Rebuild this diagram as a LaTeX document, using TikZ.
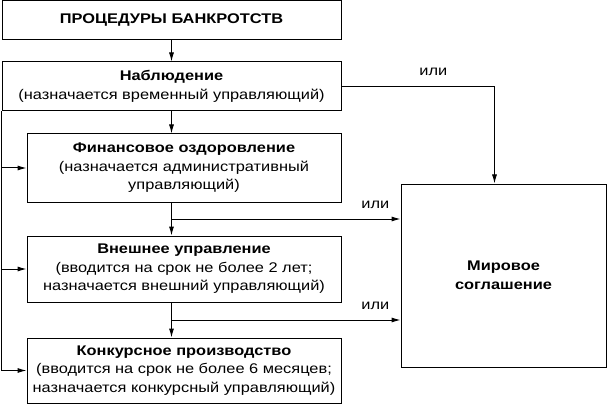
\documentclass[tikz,border=0pt]{standalone}
\usepackage{fontspec}
\setmainfont{Liberation Sans}[FakeStretch=1.17]
\usetikzlibrary{arrows.meta}

\begin{document}
\begin{tikzpicture}[x=1pt,y=-1pt,
  box/.style={draw, line width=1pt, align=center, inner sep=0pt,
    font=\fontsize{14}{18.5}\selectfont},
  arr/.style={-{Latex[length=9pt,width=5pt]}, line width=1pt},
  ili/.style={above=7pt, font=\fontsize{14}{16}\selectfont}]
\useasboundingbox (0,0) rectangle (607,406);

% Column of procedures (left)
\node[box, minimum width=339pt, minimum height=39pt] (proc) at (171.5,20.5)
  {\textbf{ПРОЦЕДУРЫ БАНКРОТСТВ}};
\node[box, minimum width=339pt, minimum height=49pt] (obs) at (171.5,86.5)
  {\textbf{Наблюдение}\\(назначается временный управляющий)};
\node[box, minimum width=314pt, minimum height=68pt] (fin) at (184,168)
  {\textbf{Финансовое оздоровление}\\(назначается административный\\управляющий)};
\node[box, minimum width=314pt, minimum height=66pt] (ext) at (184,269)
  {\textbf{Внешнее управление}\\(вводится на срок не более 2 лет;\\назначается внешний управляющий)};
\node[box, minimum width=314pt, minimum height=65pt] (konk) at (184,370.5)
  {\textbf{Конкурсное производство}\\(вводится на срок не более 6 месяцев;\\назначается конкурсный управляющий)};

% Settlement box (right)
\node[box, minimum width=205pt, minimum height=183pt] (mir) at (503.5,275.5)
  {\textbf{Мировое}\\\textbf{соглашение}};

% Junctions on the middle line
\coordinate (b1) at (172,219);
\coordinate (b2) at (172,320);

% Main line down the middle
\draw[arr] (proc.south) -- (obs.north);
\draw[arr] (obs.south) -- (obs.south |- fin.north);
\draw[arr] (obs.south |- fin.south) -- (obs.south |- ext.north);
\draw[arr] (obs.south |- ext.south) -- (obs.south |- konk.north);

% Left bypass line
\draw[arr] (obs.south west) |- (konk.west);
\draw[arr] (obs.south west |- fin.west) -- (fin.west);
\draw[arr] (obs.south west |- ext.west) -- (ext.west);

% Branches to the settlement
\draw[arr] (obs.east) -| ([xshift=94pt]mir.north west)
  node[ili, pos=0.3] {или};
\draw[arr] (b1) -- (mir.west |- b1) node[ili, pos=0.89] {или};
\draw[arr] (b2) -- (mir.west |- b2) node[ili, pos=0.89] {или};

\end{tikzpicture}
\end{document}
